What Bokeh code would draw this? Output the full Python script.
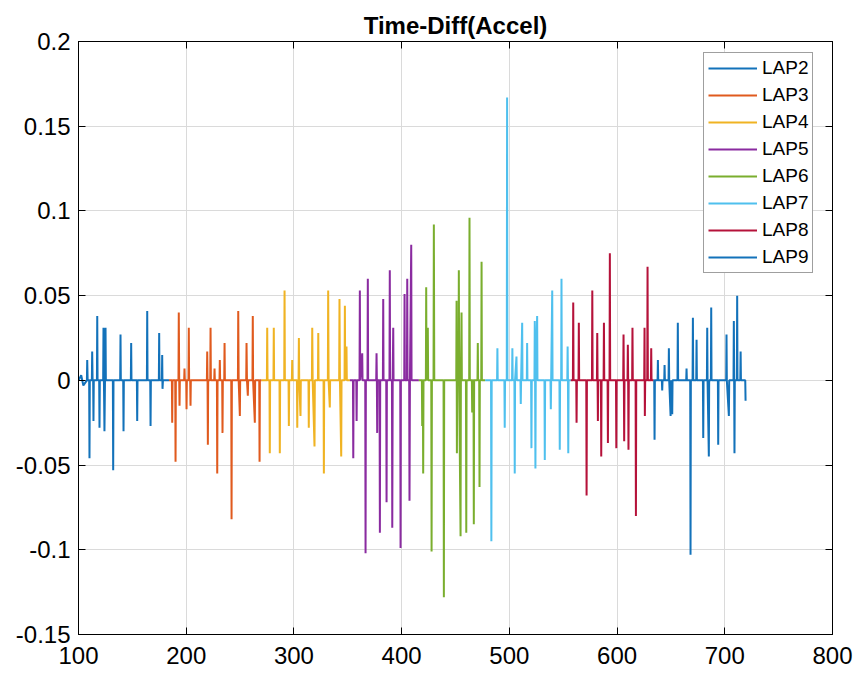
from bokeh.plotting import figure
from bokeh.models import Range1d, FixedTicker, LinearAxis, Legend, LegendItem
from bokeh.embed import file_html
from bokeh.resources import INLINE

# ---------------- data ----------------
lap_names = ["LAP2", "LAP3", "LAP4", "LAP5", "LAP6", "LAP7", "LAP8", "LAP9"]
lap_colors = ["#1372BA", "#E05A1E", "#F0B323", "#8A2BA0",
              "#7AAE2E", "#4FC0EE", "#B5123A", "#1372BA"]

x_ticks = [100, 200, 300, 400, 500, 600, 700, 800]
x_tick_labels = ["100", "200", "300", "400", "500", "600", "700", "800"]
y_ticks = [-0.15, -0.1, -0.05, 0, 0.05, 0.1, 0.15, 0.2]
y_tick_labels = ["-0.15", "-0.1", "-0.05", "0", "0.05", "0.1", "0.15", "0.2"]

# (time, value) samples for each lap
lap2 = [(100.0, 0), (102.5, 0.003), (104.5, -0.003), (107.8, 0), (108.1, 0.012), (108.5, 0),
        (109.9, 0), (110.2, -0.046), (110.5, 0), (112.4, 0), (112.7, 0.017), (113.1, 0),
        (113.6, 0), (113.9, -0.024), (114.2, 0), (117.1, 0), (117.4, 0.038), (117.7, 0),
        (119.2, 0), (119.5, -0.028), (119.8, 0), (122.9, 0), (123.2, 0.031), (123.6, 0),
        (124.1, -0.030), (124.6, 0), (125.1, 0.031), (125.4, 0), (131.9, 0), (132.2, -0.053),
        (132.5, 0), (138.7, 0), (139.0, 0.027), (139.3, 0), (141.5, 0), (141.8, -0.030),
        (142.1, 0), (148.6, 0), (148.9, 0.022), (149.2, 0), (154.2, 0), (154.5, -0.024),
        (154.8, 0), (163.5, 0), (163.8, 0.041), (164.1, 0), (166.6, 0), (166.9, -0.027),
        (167.2, 0), (174.6, 0), (174.9, 0.028), (175.2, 0), (177.4, 0), (177.7, 0.015),
        (178.0, -0.005), (178.4, 0), (184.0, 0)]

lap3 = [(184.0, 0), (186.7, 0), (187.0, -0.025), (187.3, 0), (189.8, 0), (190.1, -0.048),
        (190.4, 0), (192.8, 0), (193.1, 0.040), (193.5, 0), (193.8, -0.015), (194.1, 0),
        (198.1, 0), (198.4, 0.007), (198.7, 0), (200.0, 0), (200.3, -0.017), (200.6, 0),
        (202.1, 0), (202.4, 0.031), (202.7, 0), (203.7, 0), (204.0, -0.015), (204.3, 0),
        (219.2, 0), (219.5, 0.017), (219.8, 0), (220.1, -0.038), (220.4, 0),
        (222.3, 0), (222.6, 0.031), (222.9, 0), (226.0, 0), (226.3, 0.007), (226.6, 0),
        (228.5, 0), (228.8, -0.055), (229.1, 0), (230.9, 0), (231.2, 0.012), (231.5, 0),
        (233.4, 0), (233.7, -0.031), (234.0, 0), (235.3, 0), (235.6, 0.022), (235.9, 0),
        (241.8, 0), (242.1, -0.082), (242.4, 0), (248.0, 0), (248.3, 0.041), (248.7, 0),
        (249.8, -0.021), (250.1, 0), (255.7, 0), (256.0, 0.022), (256.4, 0), (257.2, -0.009),
        (257.5, 0), (261.5, 0), (261.8, 0.038), (262.1, 0), (263.7, -0.025), (264.0, 0),
        (267.8, 0), (268.1, -0.048), (268.4, 0), (270.0, 0)]

lap4 = [(270.0, 0), (274.9, 0), (275.2, 0.031), (275.5, 0), (277.3, 0), (277.6, -0.043),
        (277.9, 0), (281.0, 0), (281.3, 0.031), (281.6, 0), (286.6, 0), (286.9, -0.043),
        (287.2, 0), (291.0, 0), (291.3, 0.053), (291.6, 0), (295.0, 0), (295.3, -0.027),
        (295.6, 0), (298.1, 0), (298.4, 0.012), (298.7, 0), (302.8, 0), (303.1, -0.028),
        (303.4, 0), (304.3, 0), (304.6, 0.025), (304.9, 0), (306.1, -0.021), (306.4, 0),
        (313.5, 0), (313.8, -0.028), (314.1, 0), (316.7, 0), (317.0, 0.031), (317.4, 0),
        (319.1, -0.039), (319.4, 0), (322.3, 0), (322.6, 0.028), (322.9, 0), (327.5, 0),
        (327.8, -0.055), (328.1, 0), (331.5, 0), (331.8, 0.053), (332.2, 0), (333.3, -0.016),
        (333.6, 0), (342.0, 0), (342.3, 0.048), (342.7, 0), (343.9, -0.045), (344.2, 0),
        (347.0, 0), (347.3, 0.044), (347.6, 0), (348.8, 0.020), (349.1, 0), (352.0, 0)]

lap5 = [(352.0, 0), (354.8, 0), (355.1, -0.046), (355.4, 0), (357.9, 0), (358.2, -0.024),
        (358.5, 0), (360.9, 0), (361.2, 0.053), (361.5, 0), (363.4, 0.016), (363.7, 0),
        (366.2, 0), (366.5, -0.102), (366.8, 0), (368.3, 0), (368.6, 0.060), (368.9, 0),
        (376.4, 0), (376.7, 0.016), (377.0, 0), (377.3, -0.031), (377.6, 0),
        (379.5, 0), (379.8, -0.090), (380.1, 0), (382.6, 0), (382.9, 0.048), (383.2, 0),
        (385.7, 0), (386.0, -0.072), (386.3, 0), (388.7, 0), (389.0, 0.065), (389.3, 0),
        (391.0, 0), (391.3, -0.087), (391.7, 0), (392.2, 0.031), (392.5, 0), (398.7, 0),
        (399.0, -0.099), (399.3, 0), (402.4, 0), (402.7, 0.051), (403.0, 0), (404.9, 0),
        (405.2, 0.060), (405.5, 0), (407.0, 0), (407.3, -0.071), (407.7, 0), (408.9, 0.080),
        (409.2, 0), (416.0, 0)]

lap6 = [(416.0, 0), (418.8, 0), (419.1, -0.027), (419.4, 0), (419.7, 0), (420.0, -0.055),
        (420.3, 0), (422.5, 0), (422.8, 0.055), (423.1, 0), (424.3, 0.031), (424.6, 0),
        (427.5, 0), (427.8, -0.101), (428.1, 0), (429.6, 0), (429.9, 0.092), (430.3, 0),
        (438.9, 0), (439.2, -0.128), (439.5, 0), (450.7, 0), (451.0, 0.047), (451.3, -0.043),
        (451.6, 0), (452.8, 0), (453.1, 0.065), (453.4, 0), (454.7, -0.092), (455.0, 0),
        (455.6, 0.040), (455.9, 0), (459.7, 0), (460.0, -0.090), (460.3, 0), (462.7, 0),
        (463.0, 0.096), (463.3, 0), (465.2, 0), (465.5, -0.019), (465.8, 0), (466.7, 0),
        (467.0, -0.085), (467.3, 0), (470.4, 0), (470.7, 0.022), (471.0, 0), (472.0, 0),
        (472.3, -0.063), (472.6, 0), (473.9, 0), (474.2, 0.070), (474.5, 0), (477.5, 0)]

lap7 = [(477.5, 0), (483.0, 0), (483.3, -0.095), (483.6, 0), (488.6, 0), (488.9, 0.019),
        (489.2, 0), (495.4, 0), (495.7, -0.028), (496.0, 0), (497.6, 0), (497.9, 0.167),
        (498.2, 0), (502.5, 0), (502.8, 0.019), (503.1, 0), (504.7, 0), (505.0, -0.055),
        (505.3, 0), (506.6, 0.014), (506.9, 0), (510.3, 0), (510.6, -0.014), (510.9, 0),
        (511.9, 0.034), (512.2, 0), (516.2, 0), (516.5, 0.022), (516.8, 0), (520.2, 0),
        (520.5, -0.040), (520.8, 0), (523.3, 0), (523.6, 0.035), (523.9, 0), (524.2, -0.052),
        (524.5, 0), (525.8, 0.038), (526.1, 0), (532.6, 0), (532.9, -0.047), (533.2, 0),
        (538.2, 0), (538.5, -0.017), (538.8, 0), (539.8, 0.053), (540.1, 0), (546.5, 0),
        (546.8, -0.041), (547.1, 0), (548.1, 0), (548.4, 0.060), (548.7, 0), (553.8, 0),
        (554.1, 0.020), (554.4, 0), (554.7, -0.043), (555.0, 0), (557.0, 0)]

lap8 = [(557.0, 0), (559.0, 0), (559.3, 0.046), (559.6, 0), (562.1, 0), (562.4, -0.025),
        (562.7, 0), (564.2, 0), (564.5, 0.034), (564.8, 0), (571.4, 0), (571.7, -0.068),
        (572.0, 0), (576.7, 0), (577.0, 0.053), (577.3, 0), (581.3, 0), (581.6, 0.028),
        (581.9, 0), (582.2, -0.024), (582.5, 0), (585.0, 0), (585.3, -0.045), (585.6, 0),
        (587.5, 0), (587.8, 0.034), (588.1, 0), (591.2, 0), (591.5, -0.037), (591.8, 0),
        (593.0, 0), (593.3, 0.075), (593.6, 0), (599.0, 0), (599.3, -0.040), (599.6, 0),
        (605.7, 0), (606.0, 0.027), (606.3, 0), (606.6, -0.036), (606.9, 0), (609.7, 0),
        (610.0, 0.021), (610.3, 0), (610.6, -0.041), (610.9, 0), (614.0, 0), (614.3, 0.031),
        (614.6, 0), (617.2, 0), (617.5, -0.080), (617.8, 0), (625.2, 0), (625.5, 0.031),
        (625.8, -0.021), (626.1, 0), (628.0, 0), (628.3, 0.067), (628.6, 0), (631.4, 0),
        (631.7, 0.019), (632.0, 0), (634.0, 0)]

lap9 = [(634.0, 0), (634.5, 0), (634.8, -0.035), (635.1, 0), (637.6, 0), (637.9, 0.012),
        (638.2, 0), (641.6, 0), (641.9, -0.006), (642.2, 0), (643.8, 0), (644.1, 0.009),
        (644.4, 0), (647.8, 0), (648.1, 0.019), (648.4, 0), (649.7, -0.021), (650.0, 0),
        (651.2, -0.020), (651.5, 0), (656.1, 0), (656.4, 0.034), (656.7, 0), (664.2, 0),
        (664.5, 0.007), (664.8, 0), (667.9, 0), (668.2, -0.103), (668.5, 0), (670.1, 0),
        (670.4, 0.037), (670.7, 0), (673.5, 0), (673.8, 0.024), (674.1, 0), (679.7, 0),
        (680.0, -0.034), (680.3, 0), (683.4, 0), (683.7, 0.031), (684.0, 0), (685.2, -0.045),
        (685.5, 0), (687.1, 0), (687.4, 0.043), (687.7, 0), (693.6, 0), (693.9, -0.038),
        (694.2, 0), (701.3, 0), (701.6, 0.027), (701.9, 0), (703.8, -0.021), (704.1, 0),
        (708.1, 0), (708.4, 0.035), (708.7, 0), (709.0, -0.043), (709.3, 0), (711.2, 0),
        (711.5, 0.050), (711.8, 0), (714.4, 0), (714.7, 0.017), (715.0, 0), (719.0, 0),
        (719.3, -0.012)]

laps = [lap2, lap3, lap4, lap5, lap6, lap7, lap8, lap9]

# ---------------- figure ----------------
FONT = "Liberation Sans"

p = figure(width=860, height=674,
           x_range=Range1d(100, 800), y_range=Range1d(-0.15, 0.2),
           output_backend="svg", toolbar_location=None,
           min_border_left=78, min_border_right=28,
           min_border_top=41, min_border_bottom=40,
           background_fill_color="white", border_fill_color="white")

p.title.text = "Time-Diff(Accel)"
p.title.align = "center"
p.title.text_font = FONT
p.title.text_font_style = "bold"
p.title.text_font_size = "24px"
p.title.text_color = "black"
p.title.standoff = 6

p.outline_line_color = "black"
p.outline_line_width = 1

renderers = []
for pts, col in zip(laps, lap_colors):
    xs = [a for a, b in pts]
    ys = [b for a, b in pts]
    r = p.line(xs, ys, line_color=col, line_width=2)
    renderers.append(r)

# axes
p.xaxis.ticker = FixedTicker(ticks=x_ticks)
p.xaxis.major_label_overrides = {t: lab for t, lab in zip(x_ticks, x_tick_labels)}
p.yaxis.ticker = FixedTicker(ticks=y_ticks)
yo = {}
for t, lab in zip(y_ticks, y_tick_labels):
    yo[t] = lab
    yo[lab] = lab
p.yaxis.major_label_overrides = yo

for ax in [p.xaxis[0], p.yaxis[0]]:
    ax.axis_line_color = "black"
    ax.major_tick_line_color = "black"
    ax.major_tick_in = 7
    ax.major_tick_out = 0
    ax.minor_tick_line_color = None
    ax.major_label_text_font = FONT
    ax.major_label_text_font_size = "24px"
    ax.major_label_text_color = "black"
p.xaxis.major_label_standoff = 12
p.yaxis.major_label_standoff = 8

ax_r = LinearAxis(ticker=FixedTicker(ticks=y_ticks), major_label_text_font_size="1px",
                  major_label_text_color=None,
                  major_tick_in=7, major_tick_out=0, minor_tick_line_color=None,
                  major_label_standoff=0, axis_line_color="black")
p.add_layout(ax_r, "right")
ax_t = LinearAxis(ticker=FixedTicker(ticks=x_ticks), major_label_text_font_size="1px",
                  major_label_text_color=None,
                  major_tick_in=7, major_tick_out=0, minor_tick_line_color=None,
                  major_label_standoff=0, axis_line_color="black")
p.add_layout(ax_t, "above")

p.xgrid.grid_line_color = "#dadada"
p.ygrid.grid_line_color = "#dadada"
p.xgrid.ticker = FixedTicker(ticks=x_ticks)
p.ygrid.ticker = FixedTicker(ticks=y_ticks)

legend = Legend(items=[LegendItem(label=n, renderers=[r]) for n, r in zip(lap_names, renderers)],
                location=(625, 361))
legend.label_text_font = FONT
legend.label_text_font_size = "19px"
legend.label_text_color = "black"
legend.label_height = 20
legend.glyph_height = 20
legend.glyph_width = 49
legend.label_standoff = 5
legend.spacing = 5
legend.padding = 4
legend.margin = 0
legend.border_line_color = "#404040"
legend.border_line_width = 1.5
legend.background_fill_color = "white"
legend.background_fill_alpha = 1
p.add_layout(legend)

open("out.html", "w").write(file_html(p, INLINE))
